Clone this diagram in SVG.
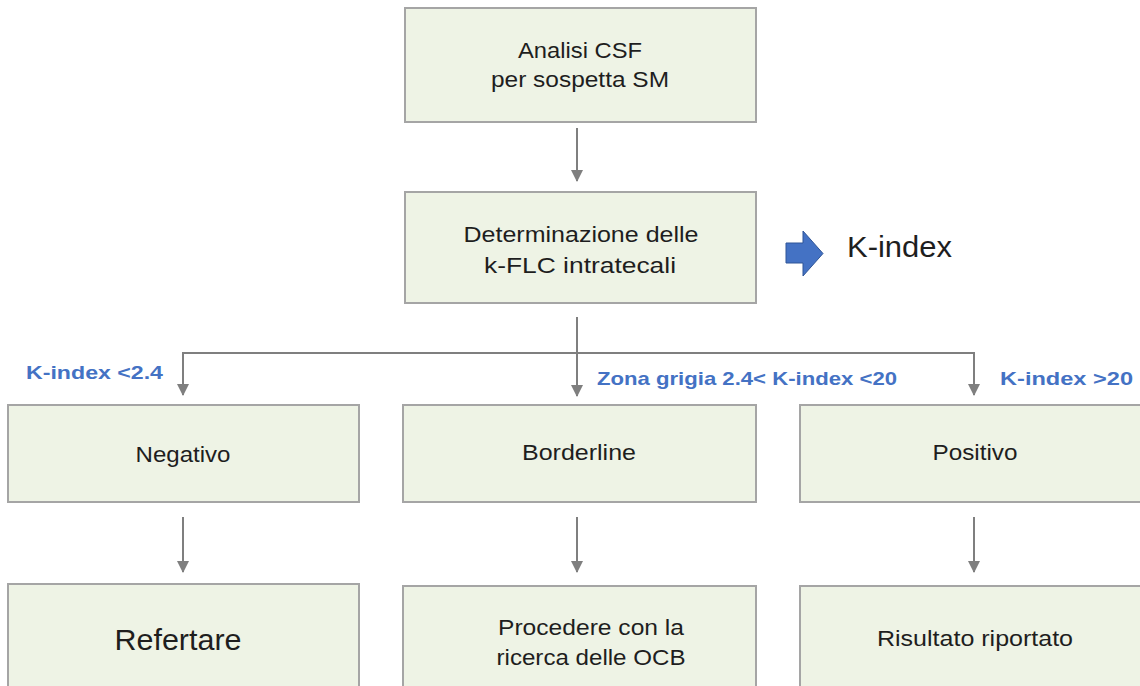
<svg xmlns="http://www.w3.org/2000/svg" width="1140" height="686" viewBox="0 0 1140 686">
<style>
.box{fill:#EEF3E5;stroke:#A5A5A5;stroke-width:2}
.t{font-family:"Liberation Sans",Arial,sans-serif;font-size:22px;fill:#1E1E1E;text-anchor:middle}
.lbl{font-family:"Liberation Sans",Arial,sans-serif;font-size:19px;font-weight:bold;fill:#4472C4}
.c{fill:none;stroke:#7F7F7F;stroke-width:2}
</style>
<defs>
<marker id="ah" viewBox="0 0 12 12" refX="11" refY="6" markerWidth="12" markerHeight="12" markerUnits="userSpaceOnUse" orient="auto">
<path d="M0,0 L12,6 L0,12 Z" fill="#7F7F7F"/>
</marker>
</defs>
<rect width="1140" height="686" fill="#FFFFFF"/>
<g id="connectors">
<line class="c" x1="577" y1="128" x2="577" y2="181" marker-end="url(#ah)"/>
<line class="c" x1="577" y1="317" x2="577" y2="396" marker-end="url(#ah)"/>
<polyline class="c" points="183,395 183,353 974,353 974,395" marker-end="url(#ah)"/>
<line class="c" x1="183" y1="353" x2="183" y2="395" marker-end="url(#ah)"/>
<line class="c" x1="183" y1="517" x2="183" y2="572" marker-end="url(#ah)"/>
<line class="c" x1="577" y1="517" x2="577" y2="572" marker-end="url(#ah)"/>
<line class="c" x1="974" y1="517" x2="974" y2="572" marker-end="url(#ah)"/>
</g>
<g id="node-analisi">
<rect class="box" x="405" y="8" width="351" height="114"/>
<text class="t" x="580" y="58" textLength="124" lengthAdjust="spacingAndGlyphs">Analisi CSF</text>
<text class="t" x="580" y="87" textLength="178" lengthAdjust="spacingAndGlyphs">per sospetta SM</text>
</g>
<g id="node-determinazione">
<rect class="box" x="405" y="192" width="351" height="111"/>
<text class="t" x="581" y="242" textLength="235" lengthAdjust="spacingAndGlyphs">Determinazione delle</text>
<text class="t" x="580" y="273" textLength="192" lengthAdjust="spacingAndGlyphs">k-FLC intratecali</text>
</g>
<g id="kindex">
<path d="M786,243 L803,243 L803,231 L823,253.5 L803,276 L803,263 L786,263 Z" fill="#4472C4" stroke="#2F5597" stroke-width="1"/>
<text x="847" y="257" style="font-family:'Liberation Sans',Arial,sans-serif;font-size:29px;fill:#1E1E1E" textLength="105" lengthAdjust="spacingAndGlyphs">K-index</text>
</g>
<g id="labels">
<text class="lbl" x="26" y="379" textLength="137" lengthAdjust="spacingAndGlyphs">K-index &lt;2.4</text>
<text class="lbl" x="597" y="385" textLength="300" lengthAdjust="spacingAndGlyphs">Zona grigia 2.4&lt; K-index &lt;20</text>
<text class="lbl" x="1000" y="385" textLength="133" lengthAdjust="spacingAndGlyphs">K-index &gt;20</text>
</g>
<g id="node-negativo">
<rect class="box" x="8" y="405" width="351" height="97"/>
<text class="t" x="183" y="462" textLength="95" lengthAdjust="spacingAndGlyphs">Negativo</text>
</g>
<g id="node-borderline">
<rect class="box" x="403" y="405" width="353" height="97"/>
<text class="t" x="579" y="460" textLength="114" lengthAdjust="spacingAndGlyphs">Borderline</text>
</g>
<g id="node-positivo">
<rect class="box" x="800" y="405" width="350" height="97"/>
<text class="t" x="975" y="460" textLength="85" lengthAdjust="spacingAndGlyphs">Positivo</text>
</g>
<g id="node-refertare">
<rect class="box" x="8" y="584" width="351" height="110"/>
<text class="t" x="178" y="650" style="font-size:30px" textLength="127" lengthAdjust="spacingAndGlyphs">Refertare</text>
</g>
<g id="node-procedere">
<rect class="box" x="403" y="586" width="353" height="110"/>
<text class="t" x="591" y="635" textLength="186" lengthAdjust="spacingAndGlyphs">Procedere con la</text>
<text class="t" x="591" y="665" textLength="189" lengthAdjust="spacingAndGlyphs">ricerca delle OCB</text>
</g>
<g id="node-risultato">
<rect class="box" x="800" y="586" width="350" height="110"/>
<text class="t" x="975" y="646" textLength="196" lengthAdjust="spacingAndGlyphs">Risultato riportato</text>
</g>
</svg>
